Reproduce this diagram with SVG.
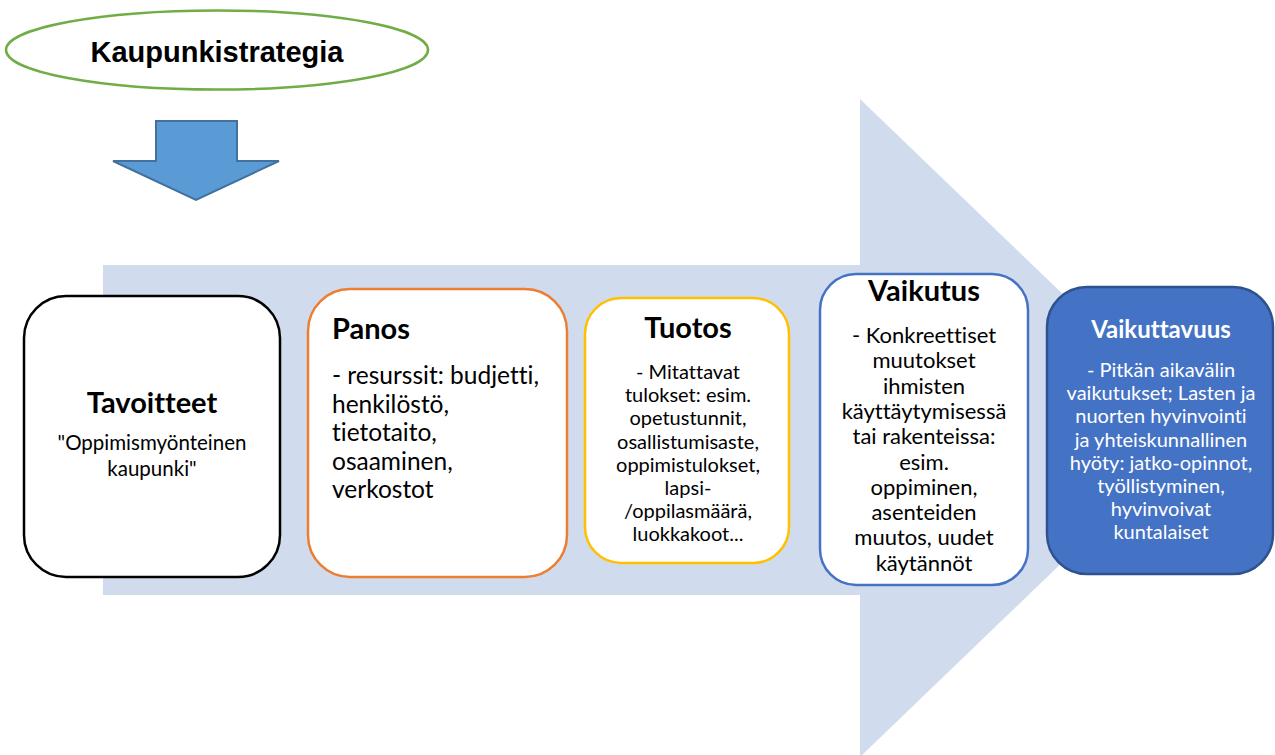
<svg xmlns="http://www.w3.org/2000/svg" width="1275" height="755" viewBox="0 0 1275 755">
<style>
text{font-variant-ligatures:none;font-feature-settings:"liga" 0,"clig" 0}
.t{font-family:Lato,"Liberation Sans",sans-serif;font-weight:bold;fill:#000}
.b{font-family:Lato,"Liberation Sans",sans-serif;fill:#000}
.w{fill:#fff}
.box{stroke-width:2.5}
</style>
<rect width="1275" height="755" fill="#fff"/>
<g id="big-arrow">
<polygon points="103,265 860,265 860,99 1202,428 860,757 860,595 103,595" fill="#D0DCEE"/>
</g>
<g id="kaupunkistrategia">
<ellipse cx="217" cy="50" rx="211" ry="39.5" fill="#fff" stroke="#70AD47" stroke-width="2.5"/>
<text x="217" y="62" text-anchor="middle" font-family="'Liberation Sans',Arial,sans-serif" font-weight="bold" font-size="29">Kaupunkistrategia</text>
</g>
<g id="connectors">
<polygon points="156,121 237,121 237,161 279,161 196,200 113,161 156,161" fill="#5B9BD5" stroke="#41719C" stroke-width="2"/>
</g>
<g id="tavoitteet">
<rect class="box" x="24" y="296" width="256" height="281" rx="42" fill="#fff" stroke="#000"/>
<text class="t" x="152" y="413" text-anchor="middle" font-size="29">Tavoitteet</text>
<text class="b" x="152" y="450" text-anchor="middle" font-size="20.5">"Oppimismyönteinen</text>
<text class="b" x="152" y="476" text-anchor="middle" font-size="20.5">kaupunki"</text>
</g>
<g id="panos">
<rect class="box" x="308" y="289" width="259" height="288" rx="42" fill="#fff" stroke="#ED7D31"/>
<text class="t" x="332" y="339" font-size="29">Panos</text>
<g class="b" font-size="24.5">
<text x="332" y="384">- resurssit: budjetti,</text>
<text x="332" y="412.6">henkilöstö,</text>
<text x="332" y="441.2">tietotaito,</text>
<text x="332" y="469.8">osaaminen,</text>
<text x="332" y="498.4">verkostot</text>
</g>
</g>
<g id="tuotos">
<rect class="box" x="585" y="298" width="204" height="265" rx="36" fill="#fff" stroke="#FFC000"/>
<text class="t" x="688" y="338" text-anchor="middle" font-size="29">Tuotos</text>
<g class="b" font-size="20" text-anchor="middle">
<text x="688" y="379">- Mitattavat</text>
<text x="688" y="402.2">tulokset: esim.</text>
<text x="688" y="425.4">opetustunnit,</text>
<text x="688" y="448.6">osallistumisaste,</text>
<text x="688" y="471.8">oppimistulokset,</text>
<text x="688" y="495">lapsi-</text>
<text x="688" y="518.2">/oppilasmäärä,</text>
<text x="688" y="541.4">luokkakoot...</text>
</g>
</g>
<g id="vaikutus">
<rect class="box" x="820" y="274" width="208" height="311" rx="36" fill="#fff" stroke="#4472C4"/>
<text class="t" x="924" y="301" text-anchor="middle" font-size="29">Vaikutus</text>
<g class="b" font-size="22" text-anchor="middle">
<text x="924" y="343">- Konkreettiset</text>
<text x="924" y="368.3">muutokset</text>
<text x="924" y="393.6">ihmisten</text>
<text x="924" y="418.9">käyttäytymisessä</text>
<text x="924" y="444.2">tai rakenteissa:</text>
<text x="924" y="469.5">esim.</text>
<text x="924" y="494.8">oppiminen,</text>
<text x="924" y="520.1">asenteiden</text>
<text x="924" y="545.4">muutos, uudet</text>
<text x="924" y="570.7">käytännöt</text>
</g>
</g>
<g id="vaikuttavuus">
<rect class="box" x="1047" y="287" width="226" height="287" rx="40" fill="#4472C4" stroke="#2F528F"/>
<text class="t w" x="1161" y="338" text-anchor="middle" font-size="24">Vaikuttavuus</text>
<g font-size="20" text-anchor="middle">
<text class="b w" x="1161" y="377">- Pitkän aikavälin</text>
<text class="b w" x="1161" y="400.2">vaikutukset; Lasten ja</text>
<text class="b w" x="1161" y="423.4">nuorten hyvinvointi</text>
<text class="b w" x="1161" y="446.6">ja yhteiskunnallinen</text>
<text class="b w" x="1161" y="469.8">hyöty: jatko-opinnot,</text>
<text class="b w" x="1161" y="493">työllistyminen,</text>
<text class="b w" x="1161" y="516.2">hyvinvoivat</text>
<text class="b w" x="1161" y="539.4">kuntalaiset</text>
</g>
</g>
</svg>
